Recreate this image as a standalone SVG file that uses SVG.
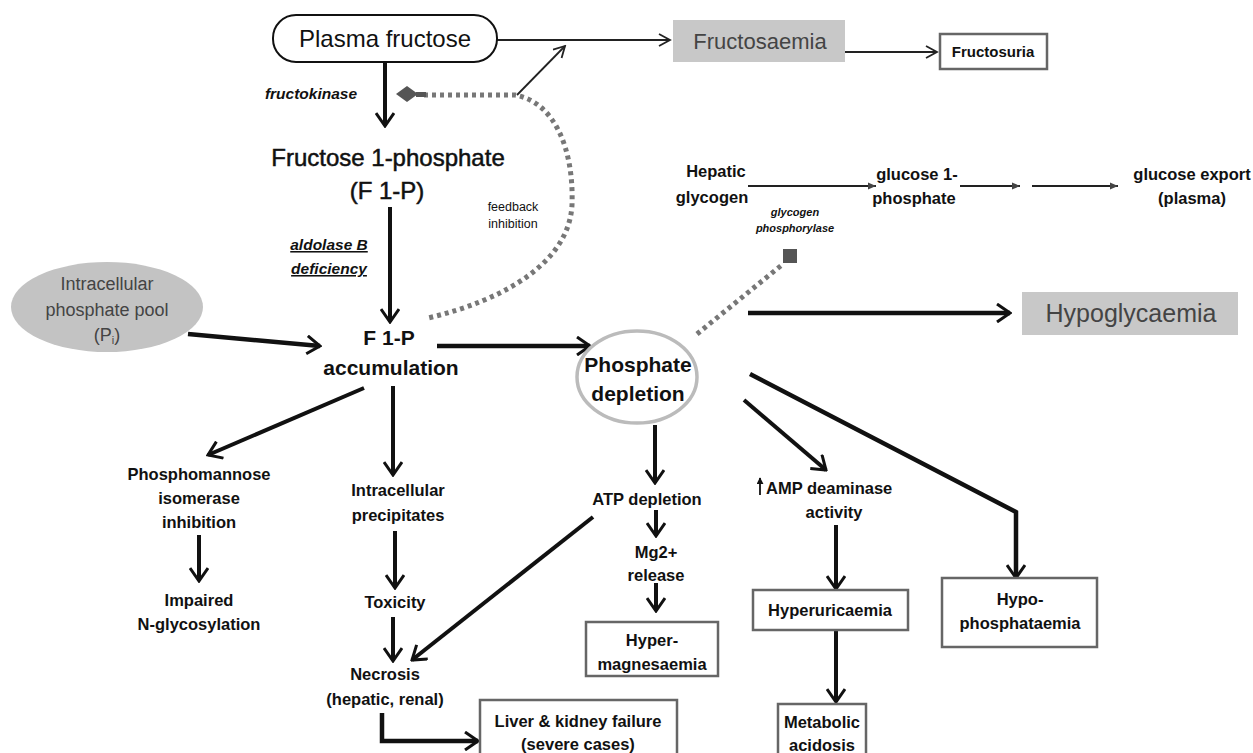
<svg xmlns="http://www.w3.org/2000/svg" width="1253" height="753" viewBox="0 0 1253 753">
  <defs>
    <style>
      text { font-family: "Liberation Sans", Arial, sans-serif; fill: #111; text-anchor: middle; }
      .start { text-anchor: start; }
      .big { font-size: 24px; }
      .semi { stroke: #111; stroke-width: 0.5; }
      .lbl { font-size: 16.5px; font-weight: bold; }
      .bold { font-size: 21px; font-weight: bold; }
      .enz { font-size: 15.5px; font-style: italic; font-weight: bold; }
      .small { font-size: 12.5px; }
      .grey { fill: #444; }
      .thick { stroke: #111; stroke-width: 4.5; fill: none; }
      .mid { stroke: #111; stroke-width: 4; fill: none; }
      .thin { stroke: #222; stroke-width: 1.8; fill: none; }
      .dotted { stroke: #777; stroke-width: 5; fill: none; stroke-dasharray: 4 4; }
      .box { fill: #fff; stroke: #666; stroke-width: 2.5; }
      .greybox { fill: #c8c8c8; stroke: none; }
    </style>
    <marker id="chev" viewBox="0 0 16 20" refX="14" refY="10" markerWidth="16" markerHeight="20" markerUnits="userSpaceOnUse" orient="auto">
      <path d="M1,1 L14,10 L1,19" fill="none" stroke="#111" stroke-width="3"/>
    </marker>
    <marker id="chevThin" viewBox="0 0 14 14" refX="12" refY="7" markerWidth="14" markerHeight="14" markerUnits="userSpaceOnUse" orient="auto">
      <path d="M1,1 L12,7 L1,13" fill="none" stroke="#222" stroke-width="1.8"/>
    </marker>
    <marker id="tri" viewBox="0 0 10 10" refX="9" refY="5" markerWidth="9" markerHeight="9" markerUnits="userSpaceOnUse" orient="auto">
      <path d="M0,1 L9,5 L0,9 Z" fill="#444"/>
    </marker>
    <marker id="up" viewBox="0 0 8 8" refX="7" refY="4" markerWidth="7" markerHeight="7" markerUnits="userSpaceOnUse" orient="auto">
      <path d="M0,0 L8,4 L0,8 Z" fill="#111"/>
    </marker>
  </defs>

  <rect width="1253" height="753" fill="#fff"/>

  <!-- connectors -->
  <g id="connectors">
    <!-- top row -->
    <path class="thin" d="M497,40 H670" marker-end="url(#chevThin)"/>
    <path class="thin" d="M845,52 H937" marker-end="url(#chevThin)"/>
    <path class="thin" d="M517,95 L565,46" marker-end="url(#chevThin)"/>
    <path class="mid" d="M385,62 V126" marker-end="url(#chev)"/>
    <!-- feedback inhibition loop -->
    <path class="dotted" d="M424,95 L515,95 C555,102 574,150 572,205 C569,262 505,300 428,318"/>
    <polygon points="396,94 407,86 418,94 407,102" fill="#555"/>
    <path d="M416,94.5 H426" stroke="#555" stroke-width="5"/>
    <!-- glycogen pathway -->
    <path d="M748,186 H876" stroke="#222" stroke-width="2.2" marker-end="url(#tri)"/>
    <path d="M960,186 H1020" stroke="#222" stroke-width="2.2" marker-end="url(#tri)"/>
    <path d="M1032,186 H1118" stroke="#222" stroke-width="2.2" marker-end="url(#tri)"/>
    <path class="dotted" d="M697,334 L783,264"/>
    <rect x="783" y="249" width="14" height="14" fill="#555"/>
    <!-- middle -->
    <path class="mid" d="M390,207 V322" marker-end="url(#chev)"/>
    <path class="thick" d="M188,334 L320,346" marker-end="url(#chev)"/>
    <path class="thick" d="M437,346 H590" marker-end="url(#chev)"/>
    <path class="thick" d="M748,313 H1010" marker-end="url(#chev)"/>
    <!-- F 1-P accumulation branches -->
    <path class="mid" d="M364,388 L208,455" marker-end="url(#chev)"/>
    <path class="mid" d="M393,386 V475" marker-end="url(#chev)"/>
    <path class="mid" d="M199,535 V581" marker-end="url(#chev)"/>
    <path class="mid" d="M395,531 V588" marker-end="url(#chev)"/>
    <path class="mid" d="M393,617 V661" marker-end="url(#chev)"/>
    <path class="mid" d="M593,517 L412,660" marker-end="url(#chev)"/>
    <path class="thick" d="M382,713 V741 H478" marker-end="url(#chev)"/>
    <!-- phosphate depletion branches -->
    <path class="mid" d="M655,425 V483" marker-end="url(#chev)"/>
    <path class="mid" d="M656,510 V536" marker-end="url(#chev)"/>
    <path class="mid" d="M656,583 V611" marker-end="url(#chev)"/>
    <path class="mid" d="M744,400 L826,470" marker-end="url(#chev)"/>
    <path class="mid" d="M836,525 V589" marker-end="url(#chev)"/>
    <path class="mid" d="M836,631 V702" marker-end="url(#chev)"/>
    <path class="thick" d="M750,374 L1016,512 V578" marker-end="url(#chev)"/>
    <path d="M760,495 V478" stroke="#111" stroke-width="1.8" marker-end="url(#up)"/>
  </g>

  <g id="plasma-fructose">
    <rect x="273" y="15" width="224" height="47" rx="23" fill="#fff" stroke="#111" stroke-width="2"/>
    <text class="big" x="385" y="47">Plasma fructose</text>
  </g>
  <g id="fructosaemia">
    <rect class="greybox" x="673" y="20" width="172" height="42"/>
    <text class="grey" x="760" y="49" font-size="22">Fructosaemia</text>
  </g>
  <g id="fructosuria">
    <rect class="box" x="940" y="34" width="107" height="35"/>
    <text x="993" y="57" font-size="15" font-weight="bold">Fructosuria</text>
  </g>
  <g id="fructokinase">
    <text class="enz" x="311" y="99">fructokinase</text>
  </g>
  <g id="f1p">
    <text class="big semi" x="388" y="166">Fructose 1-phosphate</text>
    <text class="big semi" x="387" y="199">(F 1-P)</text>
  </g>
  <g id="feedback">
    <text class="small" x="513" y="211">feedback</text>
    <text class="small" x="513" y="228">inhibition</text>
  </g>
  <g id="aldolase">
    <text class="enz" x="329" y="250" font-size="16.5" text-decoration="underline">aldolase B</text>
    <text class="enz" x="329" y="274" font-size="16.5" text-decoration="underline">deficiency</text>
  </g>
  <g id="phosphate-pool">
    <ellipse cx="107" cy="307" rx="96" ry="45" fill="#c3c3c3"/>
    <text class="grey" x="107" y="290" font-size="18">Intracellular</text>
    <text class="grey" x="107" y="316" font-size="18">phosphate pool</text>
    <text class="grey" x="107" y="341" font-size="18">(P<tspan font-size="11" dy="3">i</tspan><tspan dy="-3">)</tspan></text>
  </g>
  <g id="f1p-accumulation">
    <text class="bold" x="389" y="345">F 1-P</text>
    <text class="bold" x="391" y="375">accumulation</text>
  </g>
  <g id="phosphate-depletion">
    <ellipse cx="637" cy="377" rx="60" ry="46" fill="#fff" stroke="#bbb" stroke-width="3.5"/>
    <text class="bold" x="638" y="372" font-size="18">Phosphate</text>
    <text class="bold" x="638" y="401" font-size="18">depletion</text>
  </g>
  <g id="hypoglycaemia">
    <rect class="greybox" x="1022" y="292" width="216" height="43"/>
    <text class="grey" x="1131" y="322" font-size="25">Hypoglycaemia</text>
  </g>
  <g id="hepatic-glycogen">
    <text class="lbl" x="716" y="177">Hepatic</text>
    <text class="lbl" x="712" y="203">glycogen</text>
  </g>
  <g id="glycogen-phosphorylase">
    <text x="795" y="216" font-size="11" font-style="italic" font-weight="bold">glycogen</text>
    <text x="795" y="232" font-size="11" font-style="italic" font-weight="bold">phosphorylase</text>
  </g>
  <g id="glucose-1-phosphate">
    <text class="lbl" x="917" y="180">glucose 1-</text>
    <text class="lbl" x="914" y="204">phosphate</text>
  </g>
  <g id="glucose-export">
    <text class="lbl" x="1192" y="180">glucose export</text>
    <text class="lbl" x="1192" y="204">(plasma)</text>
  </g>
  <g id="phosphomannose">
    <text class="lbl" x="199" y="480">Phosphomannose</text>
    <text class="lbl" x="199" y="504">isomerase</text>
    <text class="lbl" x="199" y="528">inhibition</text>
  </g>
  <g id="impaired">
    <text class="lbl" x="199" y="606">Impaired</text>
    <text class="lbl" x="199" y="630">N-glycosylation</text>
  </g>
  <g id="precipitates">
    <text class="lbl" x="398" y="496">Intracellular</text>
    <text class="lbl" x="398" y="521">precipitates</text>
  </g>
  <g id="toxicity">
    <text class="lbl" x="395" y="608">Toxicity</text>
  </g>
  <g id="necrosis">
    <text class="lbl" x="385" y="680">Necrosis</text>
    <text class="lbl" x="385" y="705">(hepatic, renal)</text>
  </g>
  <g id="liver-kidney">
    <rect class="box" x="480" y="700" width="197" height="62"/>
    <text class="lbl" x="578" y="727">Liver &amp; kidney failure</text>
    <text class="lbl" x="578" y="750">(severe cases)</text>
  </g>
  <g id="atp-depletion">
    <text class="lbl" x="647" y="505">ATP depletion</text>
  </g>
  <g id="mg-release">
    <text class="lbl" x="656" y="558">Mg2+</text>
    <text class="lbl" x="656" y="581">release</text>
  </g>
  <g id="hypermagnesaemia">
    <rect class="box" x="586" y="622" width="132" height="54"/>
    <text class="lbl" x="652" y="646">Hyper-</text>
    <text class="lbl" x="652" y="670">magnesaemia</text>
  </g>
  <g id="amp-deaminase">
    <text class="lbl start" x="766" y="494">AMP deaminase</text>
    <text class="lbl" x="834" y="518">activity</text>
  </g>
  <g id="hyperuricaemia">
    <rect class="box" x="753" y="590" width="155" height="40"/>
    <text class="lbl" x="830" y="616">Hyperuricaemia</text>
  </g>
  <g id="metabolic-acidosis">
    <rect class="box" x="778" y="704" width="88" height="58"/>
    <text class="lbl" x="822" y="728">Metabolic</text>
    <text class="lbl" x="822" y="751">acidosis</text>
  </g>
  <g id="hypophosphataemia">
    <rect class="box" x="942" y="578" width="155" height="69"/>
    <text class="lbl" x="1020" y="605">Hypo-</text>
    <text class="lbl" x="1020" y="629">phosphataemia</text>
  </g>
</svg>
